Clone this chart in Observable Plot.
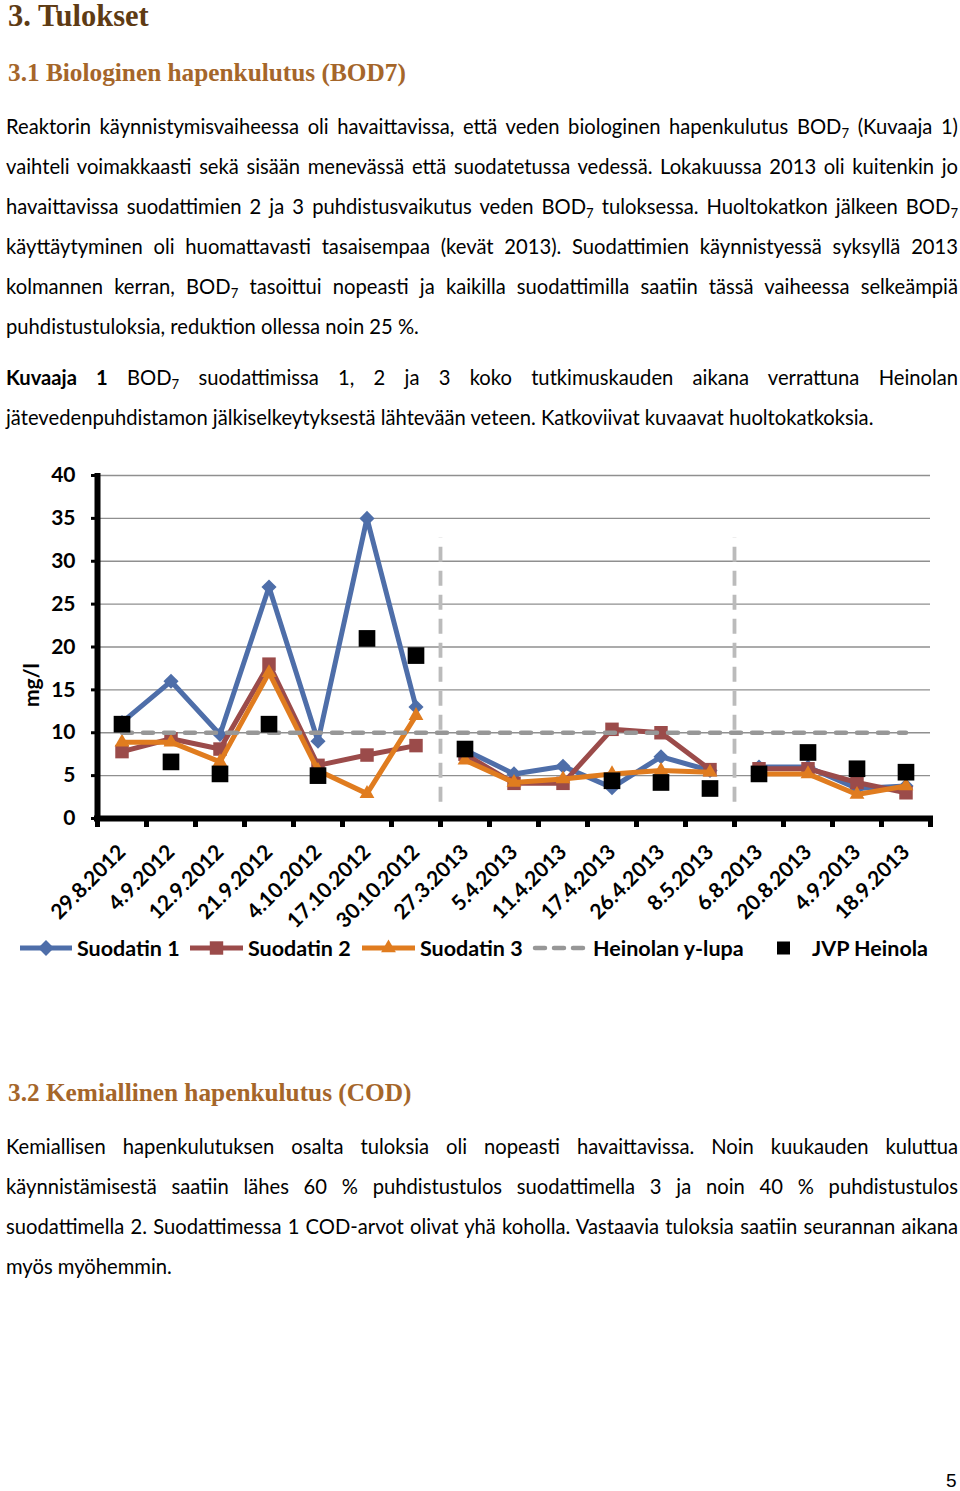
<!DOCTYPE html>
<html><head><meta charset="utf-8">
<script src="https://cdn.jsdelivr.net/npm/d3@7"></script>
<script src="https://cdn.jsdelivr.net/npm/@observablehq/plot@0.6"></script>
<style>
body{margin:0;width:960px;height:1491px;position:relative;background:#fff;overflow:hidden;font-family:Lato,sans-serif;color:#000}
.h1{position:absolute;left:8px;font-family:"Liberation Serif",serif;font-weight:bold;font-size:30.5px;line-height:30px;color:#5e3b14;white-space:nowrap}
.h2{position:absolute;left:8px;font-family:"Liberation Serif",serif;font-weight:bold;font-size:25.3px;line-height:25px;color:#a5662a;white-space:nowrap}
.para{position:absolute;left:6px;width:952px;font-size:20.2px;line-height:40px}
.para div{white-space:nowrap;text-align:justify;text-align-last:justify}
.para div.last{text-align-last:left}
.s{font-size:0.65em;vertical-align:-0.3em;line-height:0}
#chart{position:absolute;left:0;top:455px}
#legend{position:absolute;left:0;top:930px}
.pn{position:absolute;left:946px;top:1470px;font-size:19px;line-height:22px;font-family:"Liberation Sans",sans-serif}
</style></head>
<body>
<div class="h1" style="top:1px">3. Tulokset</div>
<div class="h2" style="top:60px">3.1 Biologinen hapenkulutus (BOD7)</div>
<div class="para" style="top:106px">
<div>Reaktorin käynnistymisvaiheessa oli havaittavissa, että veden biologinen hapenkulutus BOD<span class="s">7</span> (Kuvaaja 1)</div>
<div>vaihteli voimakkaasti sekä sisään menevässä että suodatetussa vedessä. Lokakuussa 2013 oli kuitenkin jo</div>
<div>havaittavissa suodattimien 2 ja 3 puhdistusvaikutus veden BOD<span class="s">7</span> tuloksessa. Huoltokatkon jälkeen BOD<span class="s">7</span></div>
<div>käyttäytyminen oli huomattavasti tasaisempaa (kevät 2013). Suodattimien käynnistyessä syksyllä 2013</div>
<div>kolmannen kerran, BOD<span class="s">7</span> tasoittui nopeasti ja kaikilla suodattimilla saatiin tässä vaiheessa selkeämpiä</div>
<div class="last">puhdistustuloksia, reduktion ollessa noin 25 %.</div>
</div>
<div class="para" style="top:357px">
<div><b>Kuvaaja 1</b> BOD<span class="s">7</span> suodattimissa 1, 2 ja 3 koko tutkimuskauden aikana verrattuna Heinolan</div>
<div class="last">jätevedenpuhdistamon jälkiselkeytyksestä lähtevään veteen. Katkoviivat kuvaavat huoltokatkoksia.</div>
</div>
<div id="chart"></div>
<div id="legend"></div>
<div class="h2" style="top:1080px">3.2 Kemiallinen hapenkulutus (COD)</div>
<div class="para" style="top:1126px">
<div>Kemiallisen hapenkulutuksen osalta tuloksia oli nopeasti havaittavissa. Noin kuukauden kuluttua</div>
<div>käynnistämisestä saatiin lähes 60 % puhdistustulos suodattimella 3 ja noin 40 % puhdistustulos</div>
<div>suodattimella 2. Suodattimessa 1 COD-arvot olivat yhä koholla. Vastaavia tuloksia saatiin seurannan aikana</div>
<div class="last">myös myöhemmin.</div>
</div>
<div class="pn">5</div>
<script>
// ---- data ----
const dates = ["29.8.2012","4.9.2012","12.9.2012","21.9.2012","4.10.2012","17.10.2012","30.10.2012","27.3.2013","5.4.2013","11.4.2013","17.4.2013","26.4.2013","8.5.2013","6.8.2013","20.8.2013","4.9.2013","18.9.2013"];
const breakAfter = ["30.10.2012","8.5.2013"];
const suodatin1 = [11.2,16,9.8,27,9,35,13,8,5.2,6.1,3.6,7.2,5.6,6,6,3.5,3.8];
const suodatin2 = [7.8,9.3,8.1,18,6.2,7.4,8.5,7.5,4.1,4.1,10.4,10,5.7,5.8,5.8,4.2,3];
const suodatin3 = [8.9,8.9,6.6,17,5.6,2.9,12,6.8,4.2,4.6,5.2,5.6,5.4,5.2,5.2,2.8,3.8];
const yLupa = [10,10,10,10,10,10,10,10,10,10,10,10,10,10,10,10,10];
const jvpHeinola = [11,6.6,5.2,11,5,21,19,8.1,null,null,4.4,4.2,3.5,5.2,7.7,5.8,5.4];
const seriesNames = ["Suodatin 1","Suodatin 2","Suodatin 3","Heinolan y-lupa","JVP Heinola"];
const yTicks = [0,5,10,15,20,25,30,35,40];

// ---- build ----
const breakIdx = breakAfter.map(d => dates.indexOf(d));
const period = i => breakIdx.filter(b => i > b).length;
const toRows = (vals, name) => vals.map((v,i) => ({i, v, name, seg: name + "-" + period(i)})).filter(d => d.v != null);
const colors = {"Suodatin 1":"#4e6ea9","Suodatin 2":"#9b4b4a","Suodatin 3":"#e07c1f","Heinolan y-lupa":"#979797","JVP Heinola":"#000"};
const font = 'Lato,sans-serif';

const r1 = toRows(suodatin1, seriesNames[0]);
const r2 = toRows(suodatin2, seriesNames[1]);
const r3 = toRows(suodatin3, seriesNames[2]);
const rl = toRows(yLupa, seriesNames[3]);
const rj = toRows(jvpHeinola, seriesNames[4]);
const idx = dates.map((d,i) => i);
const bounds = d3.range(-0.5, dates.length, 1);

const chart = Plot.plot({
  width: 960, height: 470,
  marginTop: 20, marginBottom: 107, marginLeft: 97, marginRight: 30,
  style: {fontFamily: font, fontWeight: "bold", fontSize: "21px", color: "#000", background: "transparent", overflow: "visible"},
  x: {type: "linear", domain: [-0.5, dates.length - 0.5]},
  y: {domain: [0, 40]},
  marks: [
    Plot.ruleY(yTicks.filter(d => d > 0), {stroke: "#8f8f8f", strokeWidth: 1.3}),
    Plot.ruleX(breakIdx.map(b => b + 0.5), {x: d => d, y1: 1.9, y2: 32.7, stroke: "#bbbbbb", strokeWidth: 3.8, strokeDasharray: "15,9"}),
    Plot.axisY(yTicks, {tickSize: 6, strokeWidth: 3, tickPadding: 16, fontSize: 21, fontWeight: "bold", label: null}),
    Plot.text(["mg/l"], {frameAnchor: "left", dx: -65, dy: 60, rotate: -90, fontSize: 21, fontWeight: "bold"}),
    Plot.axisX(bounds, {tickSize: 9, strokeWidth: 5, tickFormat: () => "", label: null}),
    Plot.axisX(idx, {tickSize: 0, tickRotate: -45, tickPadding: 30, tickFormat: i => dates[i], fontSize: 21, fontWeight: "bold", label: null}),
    Plot.ruleY([0], {stroke: "#000", strokeWidth: 6, insetLeft: -3, insetRight: -3}),
    Plot.ruleX([-0.5], {stroke: "#000", strokeWidth: 6, insetTop: -2, insetBottom: -3}),
    Plot.line(r1, {x: "i", y: "v", z: "seg", stroke: colors[seriesNames[0]], strokeWidth: 5}),
    Plot.dot(r1, {x: "i", y: "v", symbol: "diamond2", r: 6.8, fill: colors[seriesNames[0]], stroke: null}),
    Plot.line(r2, {x: "i", y: "v", z: "seg", stroke: colors[seriesNames[1]], strokeWidth: 5}),
    Plot.dot(r2, {x: "i", y: "v", symbol: "square", r: 7.6, fill: colors[seriesNames[1]], stroke: null}),
    Plot.line(r3, {x: "i", y: "v", z: "seg", stroke: colors[seriesNames[2]], strokeWidth: 5}),
    Plot.dot(r3, {x: "i", y: "v", symbol: "triangle", r: 5.5, fill: colors[seriesNames[2]], stroke: null}),
    Plot.line(rl, {x: "i", y: "v", stroke: colors[seriesNames[3]], strokeWidth: 4.5, strokeDasharray: "10,11", strokeLinecap: "round"}),
    Plot.dot(rj, {x: "i", y: "v", symbol: "square", r: 9.4, fill: "#000", stroke: null})
  ]
});
document.getElementById("chart").appendChild(chart);

// ---- legend ----
const lg = d3.select("#legend").append("svg").attr("width", 960).attr("height", 36);
const items = [
  {name: seriesNames[0], x0: 20, x1: 72, sym: d3.symbolDiamond2, size: 160},
  {name: seriesNames[1], x0: 190, x1: 243, sym: d3.symbolSquare, size: 180},
  {name: seriesNames[2], x0: 362, x1: 415, sym: d3.symbolTriangle, size: 95},
  {name: seriesNames[3], x0: 535, x1: 588, dash: true},
  {name: seriesNames[4], x0: 770, x1: 797, box: true}
];
const cy = 18;
items.forEach(it => {
  const c = colors[it.name];
  if (it.box) {
    lg.append("rect").attr("x", 777).attr("y", cy - 6.5).attr("width", 13).attr("height", 13).attr("fill", "#000");
  } else {
    lg.append("line").attr("x1", it.x0).attr("x2", it.x1).attr("y1", cy).attr("y2", cy)
      .attr("stroke", c).attr("stroke-width", it.dash ? 4.5 : 5)
      .attr("stroke-dasharray", it.dash ? "10,9" : null).attr("stroke-linecap", it.dash ? "round" : null);
    if (it.sym) lg.append("path").attr("d", d3.symbol(it.sym, it.size)()).attr("transform", `translate(${(it.x0+it.x1)/2},${cy})`).attr("fill", c);
  }
  lg.append("text").attr("x", it.box ? 812 : it.x1 + 5).attr("y", cy).attr("dy", "0.36em")
    .attr("font-family", font).attr("font-weight", "bold").attr("font-size", 21.5).text(it.name);
});
</script>
</body></html>
